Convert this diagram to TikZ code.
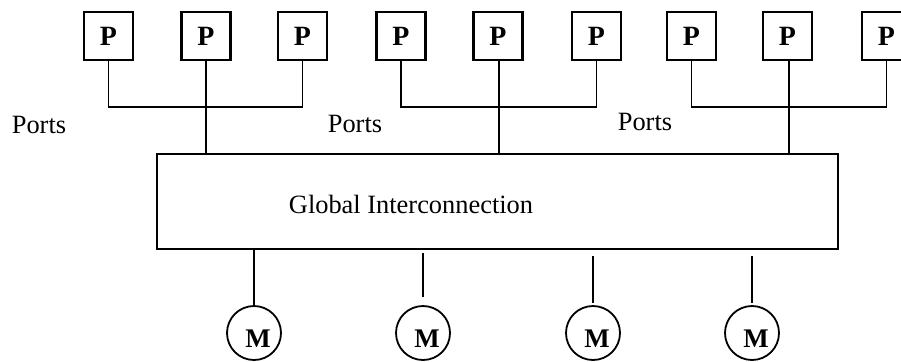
\documentclass[tikz,border=0pt]{standalone}
\usepackage{fontspec}
\setmainfont{Liberation Serif}
\begin{document}
\begin{tikzpicture}[x=1bp,y=-1bp,
  pbox/.style={draw,line width=2.4bp,minimum width=49bp,minimum height=48bp,inner sep=0pt,font=\fontsize{28}{30}\selectfont\bfseries},
  mcirc/.style={draw,circle,line width=1.8bp,minimum size=54bp,inner sep=0pt,font=\fontsize{27}{30}\selectfont\bfseries},
  gbox/.style={draw,line width=2.4bp,minimum width=681bp,minimum height=95bp,inner sep=0pt},
  lbl/.style={font=\fontsize{26.5}{30}\selectfont,inner sep=0pt},
  wire/.style={line width=1.8bp}]
\useasboundingbox (0,0) rectangle (901,361);
% P boxes
\node[pbox] (p1) at (108.5,36) {P};
\node[pbox] (p2) at (206,36) {P};
\node[pbox] (p3) at (302.5,36) {P};
\node[pbox] (p4) at (401,36) {P};
\node[pbox] (p5) at (498,36) {P};
\node[pbox] (p6) at (596.5,36) {P};
\node[pbox] (p7) at (691.5,36) {P};
\node[pbox] (p8) at (787.5,36) {P};
\node[pbox] (p9) at (886.5,36) {P};
% global interconnection box
\node[gbox] (g) at (497.5,201.5) {};
\node[lbl] (gt) at (411,204) {Global Interconnection};
% ports labels
\node[lbl] (l1) at (39,125) {Ports};
\node[lbl] (l2) at (355,124) {Ports};
\node[lbl] (l3) at (645,122) {Ports};
% bus junctions
\coordinate (j1) at (206,107);
\coordinate (j2) at (499,107);
\coordinate (j3) at (789,107);
% group 1
\draw[wire] (p1.south) |- (j1);
\draw[wire] (p3.south) |- (j1);
\draw[wire] (p2.south) -- (j1) -- (j1 |- g.north);
% group 2
\draw[wire] (p4.south) |- (j2);
\draw[wire] (p6.south) |- (j2);
\draw[wire] (p5.south -| j2) -- (j2) -- (j2 |- g.north);
% group 3
\draw[wire] (p7.south) |- (j3);
\draw[wire] (p9.south) |- (j3);
\draw[wire] (p8.south -| j3) -- (j3) -- (j3 |- g.north);
% memories
\newcommand\mlow{\hspace{8bp}\raisebox{-6bp}[\height][\depth]{M}}
\node[mcirc] (m1) at (254,333) {\mlow};
\node[mcirc] (m2) at (423,333) {\mlow};
\node[mcirc] (m3) at (593,333) {\mlow};
\node[mcirc] (m4) at (752,333) {\mlow};
\draw[wire] (g.south -| m1.north) -- (m1.north);
\draw[wire,shorten <=3bp,shorten >=8bp] (g.south -| m2.north) -- (m2.north);
\draw[wire,shorten <=6bp,shorten >=2bp] (g.south -| m3.north) -- (m3.north);
\draw[wire,shorten <=6bp,shorten >=2bp] (g.south -| m4.north) -- (m4.north);
\end{tikzpicture}
\end{document}
